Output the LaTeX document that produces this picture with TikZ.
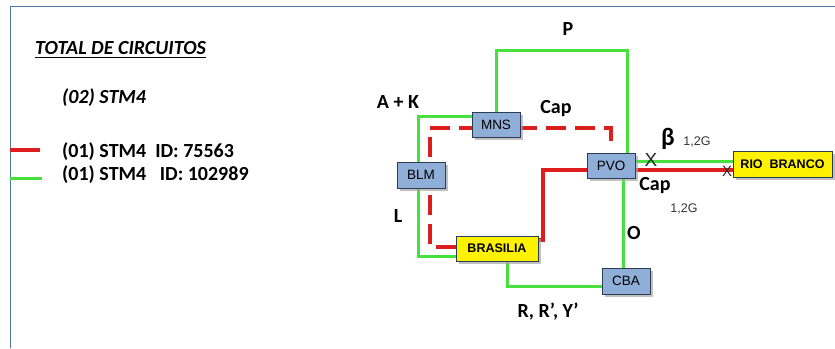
\documentclass[tikz,border=0pt]{standalone}
\usepackage{fontspec}
\setmainfont{Carlito}
\newfontfamily\arialfont{Liberation Sans}
\usetikzlibrary{shadows,calc,backgrounds}
\definecolor{boxblue}{RGB}{143,174,216}
\definecolor{boxedge}{RGB}{45,60,85}
\definecolor{gline}{RGB}{70,225,60}
\definecolor{rline}{RGB}{222,30,30}
\definecolor{framec}{RGB}{80,120,170}
\definecolor{xcol}{RGB}{40,40,40}
\tikzset{
  site/.style={draw=boxedge, line width=0.9pt, inner sep=0pt, font=\arialfont\fontsize{13.5}{13.5}\selectfont,
    drop shadow={shadow xshift=2.5pt, shadow yshift=-2.5pt, fill=black!35, opacity=0.7}},
  bluebox/.style={site, fill=boxblue, minimum width=48pt, minimum height=25pt},
  yellowbox/.style={site, fill=yellow, font=\arialfont\bfseries\fontsize{12.5}{12.5}\selectfont, minimum height=25pt},
  gpath/.style={draw=gline, line width=3pt},
  rpath/.style={draw=rline, line width=4pt},
  rdash/.style={draw=rline, line width=4pt, dash pattern=on 20pt off 9pt},
  lbl/.style={font=\bfseries\fontsize{20}{20}\selectfont, inner sep=0pt},
  small/.style={font=\arialfont\fontsize{12.5}{12.5}\selectfont, inner sep=0pt, text=black!80},
  legend/.style={font=\bfseries\fontsize{20}{20}\selectfont, inner sep=0pt, anchor=west},
  xmark/.style={font=\arialfont\fontsize{19}{19}\selectfont, inner sep=0pt, text=xcol},
}
\begin{document}
\begin{tikzpicture}[x=1pt,y=-1pt]
\useasboundingbox (0,0) rectangle (835,348);
% frame
\draw[framec, line width=1pt] (10,348) -- (10,6) -- (835,6);

% legend
\node[legend, font=\bfseries\itshape\fontsize{20}{20}\selectfont] (title) at (35,48) {TOTAL DE CIRCUITOS};
\draw[black, line width=1.3pt] ($(title.south west)+(0,3)$) -- ($(title.south east)+(0,3)$);
\node[legend, font=\bfseries\itshape\fontsize{20}{20}\selectfont] (tot) at (62,98) {(02) STM4};
\node[legend] (leg1) at (62,152) {(01) STM4\ \ ID: 75563};
\node[legend] (leg2) at (62,175) {(01) STM4\ \ \ ID: 102989};
\coordinate (lr1) at (10,150); \coordinate (lr2) at (40,150);
\coordinate (lg1) at (10,178); \coordinate (lg2) at (42,178);
\draw[rpath] (lr1) -- (lr2);
\draw[gpath] (lg1) -- (lg2);

% sites
\node[bluebox] (mns) at (496,125) {MNS};
\node[bluebox, minimum height=26pt] (blm) at (421,175) {BLM};
\node[bluebox] (pvo) at (611,165.5) {PVO};
\node[bluebox, minimum height=26pt] (cba) at (626,281) {CBA};
\node[yellowbox, minimum width=82pt] (bsb) at (497,248.5) {BRASILIA};
\node[yellowbox, minimum width=99pt, minimum height=26pt] (rio) at (782.5,164) {RIO\ \ BRANCO};

\begin{scope}[on background layer]
% green circuit
\draw[gpath] (mns.north) |- (627,50) -- ($(pvo.north)+(16,0)$);
\draw[gpath] ($(mns.west)+(0,-9)$) -| ($(blm.north)+(-3,0)$);
\draw[gpath] ($(blm.south)+(-3,0)$) |- ($(bsb.west)+(0,7.5)$);
\draw[gpath] ($(bsb.south)+(10,0)$) |- ($(cba.west)+(0,5)$);
\draw[gpath] ($(cba.north)+(-3,0)$) -- ($(pvo.south)+(12,0)$);
\draw[gpath] ($(pvo.east)+(0,-4.5)$) coordinate (g1) -- (g1 -| rio.west);
% red circuit
\draw[rpath] ($(bsb.east)+(0,-9)$) -- ++(5,0) |- ($(pvo.west)+(0,4.5)$);
\draw[rpath] ($(pvo.east)+(0,4.5)$) coordinate (r1) -- (r1 -| rio.west);
\coordinate (dend) at ($(pvo.north)+(0,-10)$);
\draw[rdash] ($(bsb.west)+(0,-1.5)$) -| ($(blm.center)+(9,-47)$) -| (dend);
\end{scope}

% labels
\node[lbl] (lp) at (568,29) {P};
\node[lbl] (lak) at (398,102) {A + K};
\node[lbl] (lcap1) at (556,109) {Cap};
\node[lbl] (ll) at (398,216) {L};
\node[lbl] (lo) at (634,233) {O};
\node[lbl] (lr) at (548,312) {R, R’, Y’};
\node[lbl, font=\bfseries\fontsize{25}{25}\selectfont] (lbeta) at (668,139) {β};
\node[small] (g12a) at (697,142) {1,2G};
\node[lbl] (lcap2) at (655,186) {Cap};
\node[small] (g12b) at (684,209) {1,2G};
\node[xmark] (x1) at (651,160) {X};
\node[xmark, font=\arialfont\fontsize{15}{15}\selectfont] (x2) at (727,171) {X};
\end{tikzpicture}
\end{document}
